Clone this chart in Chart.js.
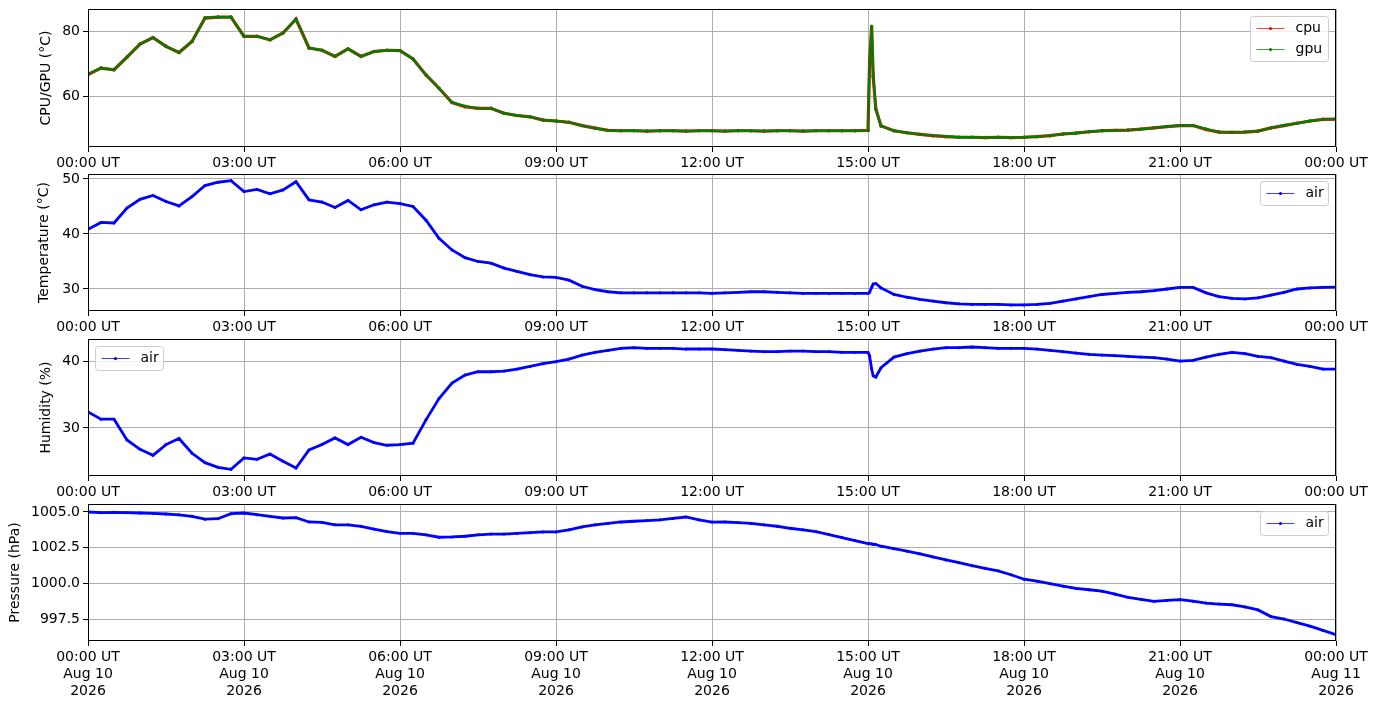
<!DOCTYPE html>
<html>
<head>
<meta charset="utf-8">
<script src="https://cdn.jsdelivr.net/npm/chart.js@4.4.1/dist/chart.umd.min.js"></script>
<style>
  body { margin: 0; background: #fff; }
  #wrap { position: relative; width: 1377px; height: 707px; }
  canvas { position: absolute; left: 0; }
</style>
</head>
<body>
<div id="wrap">
  <canvas id="cvCpu" width="1377" height="172" style="top:0px"></canvas>
  <canvas id="cvTemp" width="1377" height="165" style="top:172px"></canvas>
  <canvas id="cvHum" width="1377" height="165" style="top:337px"></canvas>
  <canvas id="cvPres" width="1377" height="205" style="top:502px"></canvas>
</div>
<script>
/* =========================
   DATA (hours since 00:00 UT)
   ========================= */
const hours = [0, 0.25, 0.5, 0.75, 1, 1.25, 1.5, 1.75, 2, 2.25, 2.5, 2.75, 3, 3.25, 3.5, 3.75,
  4, 4.25, 4.5, 4.75, 5, 5.25, 5.5, 5.75, 6, 6.25, 6.5, 6.75, 7, 7.25, 7.5, 7.75,
  8, 8.25, 8.5, 8.75, 9, 9.25, 9.5, 9.75, 10, 10.25, 10.5, 10.75, 11, 11.25, 11.5, 11.75,
  12, 12.25, 12.5, 12.75, 13, 13.25, 13.5, 13.75, 14, 14.25, 14.5, 14.75, 15,
  15.03, 15.07, 15.1, 15.15,
  15.25, 15.5, 15.75, 16, 16.25, 16.5, 16.75, 17, 17.25, 17.5, 17.75, 18, 18.25, 18.5, 18.75,
  19, 19.25, 19.5, 19.75, 20, 20.25, 20.5, 20.75, 21, 21.25, 21.5, 21.75, 22, 22.25, 22.5, 22.75,
  23, 23.25, 23.5, 23.75, 24];

const cpu = [66.6, 68.6, 68.1, 72.0, 76.0, 78.0, 75.3, 73.4, 76.8, 84.0, 84.3, 84.3, 78.4, 78.4, 77.3, 79.4,
  83.7, 74.8, 74.1, 72.2, 74.5, 72.2, 73.7, 74.1, 74.0, 71.4, 66.5, 62.4, 58.0, 56.7, 56.2, 56.2,
  54.7, 54.0, 53.6, 52.6, 52.3, 51.9, 50.9, 50.1, 49.4, 49.3, 49.3, 49.2, 49.3, 49.3, 49.2, 49.3,
  49.3, 49.2, 49.3, 49.3, 49.2, 49.3, 49.3, 49.2, 49.3, 49.3, 49.3, 49.3, 49.4,
  70.0, 81.3, 66.0, 56.0,
  50.8, 49.3, 48.7, 48.2, 47.8, 47.5, 47.3, 47.3, 47.2, 47.3, 47.2, 47.3, 47.5, 47.8, 48.3,
  48.6, 49.0, 49.3, 49.4, 49.5, 49.8, 50.2, 50.6, 50.9, 50.9, 49.7, 48.9, 48.8, 48.9, 49.2, 50.2,
  50.9, 51.6, 52.3, 52.8, 52.9];

const gpu = [66.8, 68.6, 68.1, 72.0, 76.0, 78.0, 75.3, 73.4, 76.8, 84.1, 84.3, 84.3, 78.4, 78.4, 77.3, 79.4,
  83.7, 74.8, 74.1, 72.2, 74.5, 72.2, 73.7, 74.1, 74.0, 71.4, 66.5, 62.4, 58.0, 56.9, 56.2, 56.2,
  54.7, 54.0, 53.6, 52.6, 52.3, 51.9, 50.9, 50.1, 49.4, 49.3, 49.4, 49.2, 49.3, 49.3, 49.2, 49.3,
  49.3, 49.2, 49.4, 49.3, 49.2, 49.3, 49.3, 49.2, 49.3, 49.3, 49.3, 49.3, 49.4,
  70.0, 81.6, 66.5, 56.0,
  50.8, 49.3, 48.7, 48.2, 47.8, 47.6, 47.3, 47.3, 47.2, 47.3, 47.2, 47.3, 47.5, 47.8, 48.3,
  48.6, 49.0, 49.3, 49.4, 49.5, 49.8, 50.2, 50.6, 50.9, 50.9, 49.9, 48.9, 48.8, 48.9, 49.2, 50.2,
  51.0, 51.6, 52.3, 52.8, 52.9];

const airTemp = [40.85, 42.1, 42.0, 44.7, 46.3, 47.0, 45.9, 45.1, 46.8, 48.8, 49.4, 49.7, 47.7, 48.1, 47.3, 48.0,
  49.5, 46.2, 45.8, 44.8, 46.1, 44.4, 45.3, 45.8, 45.5, 45.0, 42.5, 39.2, 37.1, 35.7, 35.0, 34.7,
  33.8, 33.2, 32.6, 32.2, 32.1, 31.6, 30.5, 29.9, 29.5, 29.3, 29.3, 29.3, 29.3, 29.3, 29.3, 29.3,
  29.2, 29.3, 29.4, 29.5, 29.5, 29.4, 29.3, 29.2, 29.2, 29.2, 29.2, 29.2, 29.2,
  29.4, 30.3, 30.9, 31.0,
  30.2, 29.0, 28.5, 28.1, 27.8, 27.5, 27.3, 27.2, 27.2, 27.2, 27.1, 27.1, 27.2, 27.4, 27.8,
  28.2, 28.6, 29.0, 29.2, 29.4, 29.5, 29.7, 30.0, 30.3, 30.3, 29.3, 28.6, 28.3, 28.2, 28.4, 28.9,
  29.4, 30.0, 30.2, 30.3, 30.35];

const humidity = [32.4, 31.3, 31.3, 28.2, 26.8, 25.9, 27.5, 28.4, 26.2, 24.8, 24.1, 23.8, 25.5, 25.3, 26.1, 25.0,
  24.0, 26.7, 27.5, 28.5, 27.5, 28.6, 27.8, 27.4, 27.5, 27.7, 31.2, 34.4, 36.7, 37.9, 38.4, 38.4,
  38.5, 38.8, 39.2, 39.6, 39.9, 40.3, 40.9, 41.3, 41.6, 41.9, 42.0, 41.9, 41.9, 41.9, 41.8, 41.8,
  41.8, 41.7, 41.6, 41.5, 41.4, 41.4, 41.5, 41.5, 41.4, 41.4, 41.3, 41.3, 41.3,
  40.8, 38.8, 37.8, 37.6,
  39.0, 40.6, 41.1, 41.5, 41.8, 42.0, 42.0, 42.1, 42.0, 41.9, 41.9, 41.9, 41.8, 41.6, 41.4,
  41.2, 41.0, 40.9, 40.8, 40.7, 40.6, 40.5, 40.3, 40.0, 40.1, 40.6, 41.0, 41.3, 41.1, 40.7, 40.5,
  40.0, 39.5, 39.2, 38.8, 38.8];

const pressure = [1005.0, 1004.95, 1004.98, 1004.95, 1004.93, 1004.9, 1004.86, 1004.8, 1004.7, 1004.5, 1004.53, 1004.88,
  1004.93, 1004.81, 1004.7, 1004.58, 1004.6, 1004.3, 1004.27, 1004.1, 1004.1, 1004.0, 1003.8, 1003.63,
  1003.5, 1003.5, 1003.4, 1003.23, 1003.25, 1003.3, 1003.4, 1003.45, 1003.45, 1003.5, 1003.55, 1003.6,
  1003.6, 1003.75, 1003.95, 1004.1, 1004.2, 1004.3, 1004.35, 1004.4, 1004.45, 1004.55, 1004.65, 1004.45,
  1004.29, 1004.3, 1004.26, 1004.2, 1004.1, 1004.0, 1003.86, 1003.75, 1003.62, 1003.42, 1003.21, 1003.0,
  1002.79,
  1002.78, 1002.76, 1002.74, 1002.72,
  1002.6, 1002.43, 1002.25, 1002.07, 1001.85, 1001.64, 1001.45, 1001.24, 1001.05, 1000.88, 1000.6,
  1000.29, 1000.15, 999.98, 999.8, 999.64, 999.55, 999.45, 999.25, 999.02, 998.88, 998.74, 998.8,
  998.86, 998.75, 998.62, 998.55, 998.5, 998.35, 998.14, 997.67, 997.5, 997.25, 997.0, 996.7, 996.4];

const tickHours = [0, 3, 6, 9, 12, 15, 18, 21, 24];
const tickTimes = ["00:00 UT", "03:00 UT", "06:00 UT", "09:00 UT", "12:00 UT", "15:00 UT", "18:00 UT", "21:00 UT", "00:00 UT"];
const tickDates = ["Aug 10", "Aug 10", "Aug 10", "Aug 10", "Aug 10", "Aug 10", "Aug 10", "Aug 10", "Aug 11"];
const tickYear = "2026";

/* =========================
   DEFAULTS
   ========================= */
Chart.defaults.font.family = "'DejaVu Sans', sans-serif";
Chart.defaults.font.size = 14;
Chart.defaults.color = "#000";

/* frame around plot area + legend box inside it */
const frame = {
  id: "frame",
  afterDraw(chart) {
    const { ctx, chartArea: a } = chart;
    ctx.save();
    ctx.strokeStyle = "#000";
    ctx.lineWidth = 1;
    ctx.strokeRect(Math.round(a.left) + 0.5, Math.round(a.top) + 0.5,
      Math.round(a.right - a.left) - 1, Math.round(a.bottom - a.top) - 1);
    ctx.restore();
  }
};

const boxLegend = {
  id: "boxLegend",
  afterDraw(chart, args, opts) {
    if (!opts.items) return;
    const { ctx, chartArea: a } = chart;
    const w = opts.width;
    const h = 10 + opts.items.length * 21 - 7;
    const x = opts.side === "left" ? a.left + 7.5 : a.right - 7.5 - w;
    const y = a.top + 7.5;
    ctx.save();
    ctx.fillStyle = "rgba(255,255,255,0.8)";
    ctx.strokeStyle = "#cccccc";
    ctx.lineWidth = 1;
    ctx.beginPath();
    ctx.roundRect(x, y, w, h, 3);
    ctx.fill();
    ctx.stroke();
    opts.items.forEach((it, i) => {
      const cy = y + 12 + i * 21;
      ctx.globalAlpha = 0.75;
      ctx.strokeStyle = it.color;
      ctx.beginPath();
      ctx.moveTo(x + 6, cy);
      ctx.lineTo(x + 34, cy);
      ctx.stroke();
      ctx.globalAlpha = 1;
      ctx.fillStyle = it.color;
      ctx.beginPath();
      ctx.arc(x + 20, cy, 1.6, 0, Math.PI * 2);
      ctx.fill();
      ctx.fillStyle = "#000";
      ctx.font = "14px 'DejaVu Sans', sans-serif";
      ctx.textBaseline = "middle";
      ctx.fillText(it.label, x + 45, cy);
    });
    ctx.restore();
  }
};

function series(values, color, width, radius, order) {
  return {
    data: hours.map((h, i) => ({ x: h, y: values[i] })),
    borderColor: color,
    backgroundColor: color,
    borderWidth: width,
    pointRadius: radius,
    pointBorderWidth: 0,
    pointHoverRadius: 0,
    order: order
  };
}

/* =========================
   ONE PANEL
   ========================= */
function panel(id, cfg) {
  return new Chart(document.getElementById(id), {
    type: "line",
    data: { datasets: cfg.datasets },
    plugins: [frame, boxLegend],
    options: {
      responsive: false,
      animation: false,
      devicePixelRatio: 1,
      layout: { padding: { top: cfg.padTop, right: 41, left: 0, bottom: 0 } },
      plugins: {
        legend: { display: false },
        tooltip: { enabled: false },
        boxLegend: cfg.legend
      },
      scales: {
        x: {
          type: "linear",
          min: 0,
          max: 24,
          afterBuildTicks: s => { s.ticks = tickHours.map(v => ({ value: v })); },
          afterFit: s => { s.height = cfg.xHeight; },
          grid: { color: "#b0b0b0", lineWidth: 1, tickLength: 5, tickColor: "#000" },
          border: { display: false },
          ticks: {
            maxRotation: 0,
            autoSkip: false,
            padding: 3,
            callback: v => {
              const i = tickHours.indexOf(v);
              return cfg.dates ? [tickTimes[i], tickDates[i], tickYear] : tickTimes[i];
            }
          }
        },
        y: {
          min: cfg.yMin,
          max: cfg.yMax,
          afterBuildTicks: s => { s.ticks = cfg.yTicks.map(v => ({ value: v })); },
          // fixed width, and no extra room for half tick labels above/below
          afterFit: s => { s.width = 88; s.paddingTop = 0; s.paddingBottom = 0; },
          grid: { color: "#b0b0b0", lineWidth: 1, tickLength: 5, tickColor: "#000" },
          border: { display: false },
          ticks: { padding: 3, callback: cfg.fmt || (v => v) },
          title: {
            display: true,
            text: cfg.title,
            padding: { top: cfg.titlePad, bottom: 0 }
          }
        }
      }
    }
  });
}

/* =========================
   CPU / GPU
   ========================= */
panel("cvCpu", {
  padTop: 9, xHeight: 25,
  yMin: 44.3, yMax: 86.8, yTicks: [60, 80],
  title: "CPU/GPU (°C)", titlePad: 38,
  datasets: [series(cpu, "#ff0000", 3.2, 1.8, 1), series(gpu, "#008000", 2.4, 1.5, 0)],
  legend: { side: "right", width: 78, items: [{ label: "cpu", color: "#ff0000" }, { label: "gpu", color: "#008000" }] }
});

/* =========================
   AIR TEMPERATURE
   ========================= */
panel("cvTemp", {
  padTop: 2, xHeight: 26,
  yMin: 26, yMax: 50.9, yTicks: [30, 40, 50],
  title: "Temperature (°C)", titlePad: 35.5,
  datasets: [series(airTemp, "#0000ff", 2.8, 1.5, 0)],
  legend: { side: "right", width: 68, items: [{ label: "air", color: "#0000ff" }] }
});

/* =========================
   HUMIDITY
   ========================= */
panel("cvHum", {
  padTop: 2, xHeight: 26,
  yMin: 22.8, yMax: 43.3, yTicks: [30, 40],
  title: "Humidity (%)", titlePad: 37.5,
  datasets: [series(humidity, "#0000ff", 2.8, 1.5, 0)],
  legend: { side: "left", width: 68, items: [{ label: "air", color: "#0000ff" }] }
});

/* =========================
   PRESSURE
   ========================= */
panel("cvPres", {
  padTop: 2, xHeight: 66, dates: true,
  yMin: 995.96, yMax: 1005.56, yTicks: [997.5, 1000, 1002.5, 1005],
  title: "Pressure (hPa)", titlePad: 7,
  fmt: v => v.toFixed(1),
  datasets: [series(pressure, "#0000ff", 2.8, 1.5, 0)],
  legend: { side: "right", width: 68, items: [{ label: "air", color: "#0000ff" }] }
});
</script>
</body>
</html>
